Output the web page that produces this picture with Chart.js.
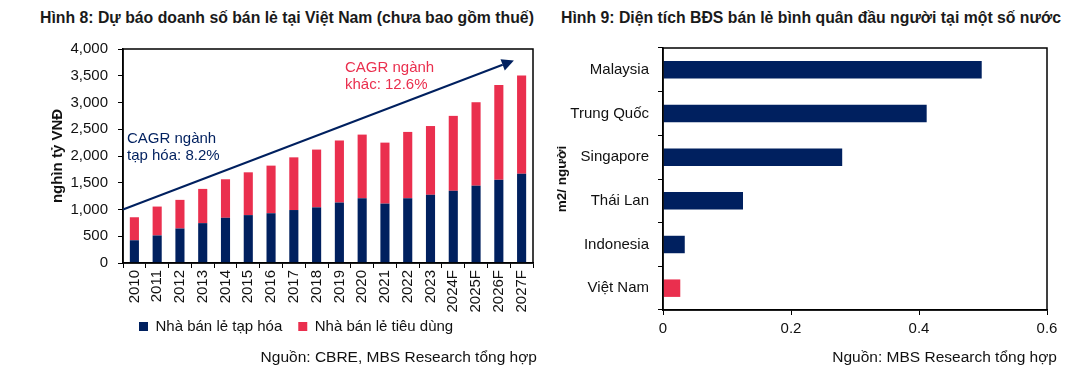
<!DOCTYPE html>
<html>
<head>
<meta charset="utf-8">
<script src="https://cdn.jsdelivr.net/npm/chart.js@4.4.0/dist/chart.umd.min.js"></script>
<style>
  body { margin: 0; background: #fff; width: 1088px; height: 372px; position: relative; overflow: hidden;
         font-family: "Liberation Sans", Arial, sans-serif; color: #111; }
  .title { position: absolute; top: 9px; font-weight: bold; font-size: 15.8px; white-space: nowrap; color: #1a1a1a; }
  .src { position: absolute; top: 348px; font-size: 15.5px; white-space: nowrap; }
  .box { position: absolute; top: 30px; }
</style>
</head>
<body>
<div class="title" style="left:40px">Hình 8: Dự báo doanh số bán lẻ tại Việt Nam (chưa bao gồm thuế)</div>
<div class="title" style="left:561px">Hình 9: Diện tích BĐS bán lẻ bình quân đầu người tại một số nước</div>
<div class="box" style="left:0;width:548px;height:327px"><canvas id="salesChart"></canvas></div>
<div class="box" style="left:550px;width:538px;height:310px"><canvas id="areaChart"></canvas></div>
<div class="src" style="right:551px">Nguồn: CBRE, MBS Research tổng hợp</div>
<div class="src" style="right:31px">Nguồn: MBS Research tổng hợp</div>
<script>
// Hinh 8 data
const years = ['2010', '2011', '2012', '2013', '2014', '2015', '2016', '2017', '2018',
  '2019', '2020', '2021', '2022', '2023', '2024F', '2025F', '2026F', '2027F'];
const groceryVals = [425, 515, 645, 745, 845, 895, 930, 990, 1040, 1130, 1210, 1110, 1210, 1275, 1350, 1445, 1555, 1670];
const otherVals = [430, 540, 535, 640, 720, 800, 890, 985, 1080, 1160, 1190, 1140, 1240, 1285, 1400, 1560, 1770, 1835];
const salesMax = 4000;
const salesStep = 500;

// Hinh 9 data
const countries = ['Malaysia', 'Trung Quốc', 'Singapore', 'Thái Lan', 'Indonesia', 'Việt Nam'];
const areaVals = [0.498, 0.412, 0.28, 0.125, 0.034, 0.027];
const areaMax = 0.6;
const areaStep = 0.2;

const NAVY = '#00205f';
const RED = '#ea2f4e';
const FONT = '"Liberation Sans", Arial, sans-serif';

// annotation anchors (category index, value)
const arrowFrom = [-0.5, 1000];
const arrowTo = [16.66, 3785];
const groceryNote = { at: [-0.5, 2250], lines: ['CAGR ngành', 'tạp hóa: 8.2%'], color: NAVY };
const otherNote = { at: [9.07, 3577], lines: ['CAGR ngành', 'khác: 12.6%'], color: RED };

const boxPlugin = {
  id: 'box',
  afterDatasetsDraw(chart) {
    const { ctx, chartArea: a } = chart;
    ctx.save();
    ctx.strokeStyle = '#000';
    ctx.lineWidth = 1.5;
    ctx.strokeRect(a.left, a.top, a.right - a.left, a.bottom - a.top);
    ctx.restore();
  }
};

// pull the legend up a bit, it sits right under the rotated year labels
const legendShift = {
  id: 'legendShift',
  afterLayout(chart) {
    const l = chart.legend;
    if (!l) return;
    l.top -= 13;
    l.bottom -= 13;
  }
};

const notePlugin = {
  id: 'notes',
  afterDatasetsDraw(chart) {
    const { ctx, scales: { x, y } } = chart;
    const x0 = x.getPixelForValue(arrowFrom[0]), y0 = y.getPixelForValue(arrowFrom[1]);
    const x1 = x.getPixelForValue(arrowTo[0]), y1 = y.getPixelForValue(arrowTo[1]);
    const ang = Math.atan2(y1 - y0, x1 - x0);
    const headLen = 12, headW = 6;
    const bx = x1 - headLen * Math.cos(ang), by = y1 - headLen * Math.sin(ang);
    ctx.save();
    ctx.strokeStyle = NAVY;
    ctx.fillStyle = NAVY;
    ctx.lineWidth = 2;
    ctx.beginPath();
    ctx.moveTo(x0, y0);
    ctx.lineTo(bx, by);
    ctx.stroke();
    ctx.beginPath();
    ctx.moveTo(x1, y1);
    ctx.lineTo(bx + headW * Math.sin(ang), by - headW * Math.cos(ang));
    ctx.lineTo(bx - headW * Math.sin(ang), by + headW * Math.cos(ang));
    ctx.closePath();
    ctx.fill();

    ctx.font = '15px ' + FONT;
    ctx.textAlign = 'left';
    ctx.textBaseline = 'alphabetic';
    [groceryNote, otherNote].forEach(n => {
      const tx = x.getPixelForValue(n.at[0]) + 4;
      const ty = y.getPixelForValue(n.at[1]);
      ctx.fillStyle = n.color;
      n.lines.forEach((t, i) => ctx.fillText(t, tx, ty + i * 17));
    });
    ctx.restore();
  }
};

const tickFont = { family: FONT, size: 15 };

new Chart(document.getElementById('salesChart'), {
  type: 'bar',
  data: {
    labels: years,
    datasets: [
      { label: 'Nhà bán lẻ tạp hóa', data: groceryVals, backgroundColor: NAVY },
      { label: 'Nhà bán lẻ tiêu dùng', data: otherVals, backgroundColor: RED }
    ]
  },
  options: {
    responsive: true,
    maintainAspectRatio: false,
    animation: false,
    barPercentage: 0.4,
    categoryPercentage: 1,
    layout: { padding: { top: 15, right: 15, left: 0, bottom: 0 } },
    plugins: {
      tooltip: { enabled: false },
      legend: {
        position: 'bottom',
        align: 'start',
        fullSize: false,
        labels: { boxWidth: 9, boxHeight: 9, padding: 16, color: '#111', font: tickFont }
      }
    },
    scales: {
      x: {
        stacked: true,
        afterFit: s => { s.height = 53; },
        border: { color: '#000', width: 1.5 },
        grid: { drawOnChartArea: false, color: '#000', tickLength: 5, offset: true },
        ticks: { color: '#111', font: tickFont, minRotation: 90, maxRotation: 90, padding: 2, autoSkip: false }
      },
      y: {
        stacked: true,
        min: 0,
        max: salesMax,
        afterFit: s => { s.width = 123; },
        border: { color: '#000', width: 1.5 },
        grid: { drawOnChartArea: false, color: '#000', tickLength: 5 },
        ticks: {
          stepSize: salesStep, color: '#111', font: tickFont, padding: 10,
          callback: v => v.toLocaleString('en-US')
        },
        title: {
          display: true, text: 'nghìn tỷ VNĐ', color: '#111',
          font: { family: FONT, size: 15, weight: 'bold' },
          padding: { top: 49, bottom: 0 }
        }
      }
    }
  },
  plugins: [boxPlugin, notePlugin, legendShift]
});

new Chart(document.getElementById('areaChart'), {
  type: 'bar',
  data: {
    labels: countries,
    datasets: [{
      label: 'm2/ người',
      data: areaVals,
      backgroundColor: countries.map((c, i) => i === countries.length - 1 ? RED : NAVY)
    }]
  },
  options: {
    indexAxis: 'y',
    responsive: true,
    maintainAspectRatio: false,
    animation: false,
    barPercentage: 0.4,
    categoryPercentage: 1,
    layout: { padding: { top: 15, right: 41, left: 0, bottom: 0 } },
    plugins: { legend: { display: false }, tooltip: { enabled: false } },
    scales: {
      x: {
        min: 0,
        max: areaMax,
        afterFit: s => { s.height = 30; },
        border: { color: '#000', width: 1.5 },
        grid: { drawOnChartArea: false, color: '#000', tickLength: 5 },
        ticks: { stepSize: areaStep, color: '#111', font: tickFont, padding: 5,
          callback: v => +v.toFixed(1) }
      },
      y: {
        afterFit: s => { s.width = 113; },
        border: { color: '#000', width: 1.5 },
        grid: { drawOnChartArea: false, color: '#000', tickLength: 5, offset: true },
        ticks: { color: '#111', font: tickFont, padding: 9 },
        title: {
          display: true, text: 'm2/ người', color: '#111',
          font: { family: FONT, size: 13.5, weight: 'bold' },
          padding: { top: 4, bottom: 0 }
        }
      }
    }
  },
  plugins: [boxPlugin]
});
</script>
</body>
</html>
